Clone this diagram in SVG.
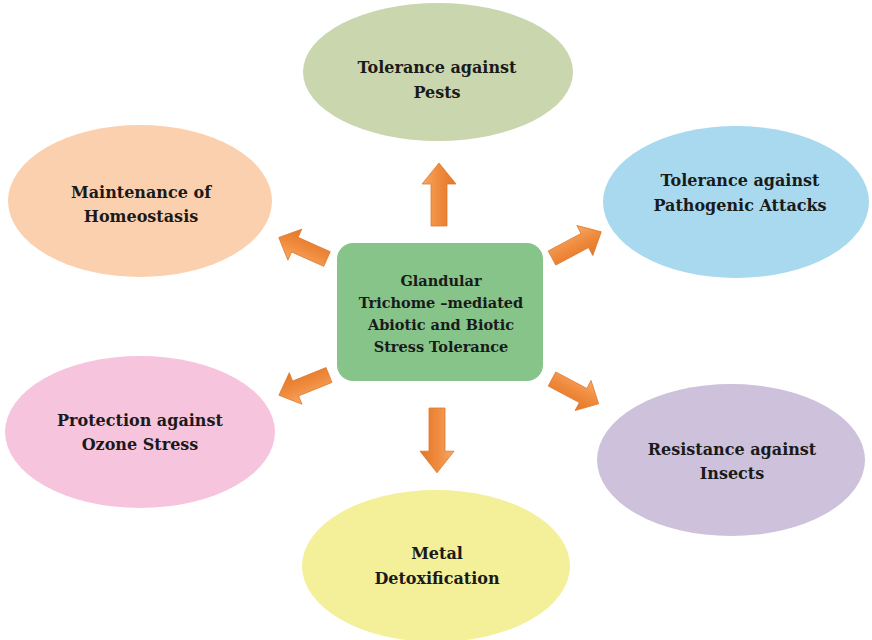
<svg xmlns="http://www.w3.org/2000/svg" width="872" height="640" viewBox="0 0 872 640">
<style>
.lbl{font-family:"DejaVu Serif",serif;font-weight:bold;font-size:16px;fill:#1a1a1a;text-anchor:middle}
.ctr{font-size:14.5px}
.arrow{fill:url(#og);stroke:#e07a2e;stroke-width:0.8}
</style>
<defs>
<linearGradient id="og" x1="0" y1="0" x2="0" y2="1">
<stop offset="0" stop-color="#f7a865"/>
<stop offset="0.5" stop-color="#ef8a3c"/>
<stop offset="1" stop-color="#e27628"/>
</linearGradient>
<path id="arr" d="M0,-8 L40,-8 L40,-17 L60,0 L40,17 L40,8 L0,8 Z"/>
</defs>
<rect width="872" height="640" fill="#ffffff"/>
<g id="node-pests">
<ellipse cx="438" cy="72" rx="135" ry="69" fill="#c9d6ae"/>
<text class="lbl" x="437" y="73">Tolerance against</text>
<text class="lbl" x="437" y="98">Pests</text>
</g>
<g id="node-homeostasis">
<ellipse cx="140" cy="201" rx="132" ry="76" fill="#fbd0ae"/>
<text class="lbl" x="141" y="198">Maintenance of</text>
<text class="lbl" x="141" y="222">Homeostasis</text>
</g>
<g id="node-pathogenic">
<ellipse cx="736" cy="202" rx="133" ry="76" fill="#a9d9ee"/>
<text class="lbl" x="740" y="186">Tolerance against</text>
<text class="lbl" x="740" y="211">Pathogenic Attacks</text>
</g>
<g id="node-ozone">
<ellipse cx="140" cy="432" rx="135" ry="76" fill="#f7c4dd"/>
<text class="lbl" x="140" y="426">Protection against</text>
<text class="lbl" x="140" y="450">Ozone Stress</text>
</g>
<g id="node-insects">
<ellipse cx="731" cy="460" rx="134" ry="76" fill="#cdc1db"/>
<text class="lbl" x="732" y="455">Resistance against</text>
<text class="lbl" x="732" y="479">Insects</text>
</g>
<g id="node-metal">
<ellipse cx="436" cy="566" rx="134" ry="76" fill="#f4ef99"/>
<text class="lbl" x="437" y="559">Metal</text>
<text class="lbl" x="437" y="584">Detoxification</text>
</g>
<g id="node-center">
<rect x="337" y="243" width="206" height="138" rx="16" ry="16" fill="#86c48a"/>
<text class="lbl ctr" x="441" y="286">Glandular</text>
<text class="lbl ctr" x="441" y="308">Trichome –mediated</text>
<text class="lbl ctr" x="441" y="330">Abiotic and Biotic</text>
<text class="lbl ctr" x="441" y="352">Stress Tolerance</text>
</g>
<g id="connectors">
<use href="#arr" class="arrow" transform="translate(439,226) rotate(-90) scale(1.05,1)"/>
<use href="#arr" class="arrow" transform="translate(437,408) rotate(90) scale(1.08,1)"/>
<use href="#arr" class="arrow" transform="translate(327,259) rotate(-156) scale(0.88,1)"/>
<use href="#arr" class="arrow" transform="translate(552,258) rotate(-28) scale(0.93,1)"/>
<use href="#arr" class="arrow" transform="translate(329,375) rotate(158) scale(0.9,1)"/>
<use href="#arr" class="arrow" transform="translate(552,379) rotate(28) scale(0.88,1)"/>
</g>
</svg>
